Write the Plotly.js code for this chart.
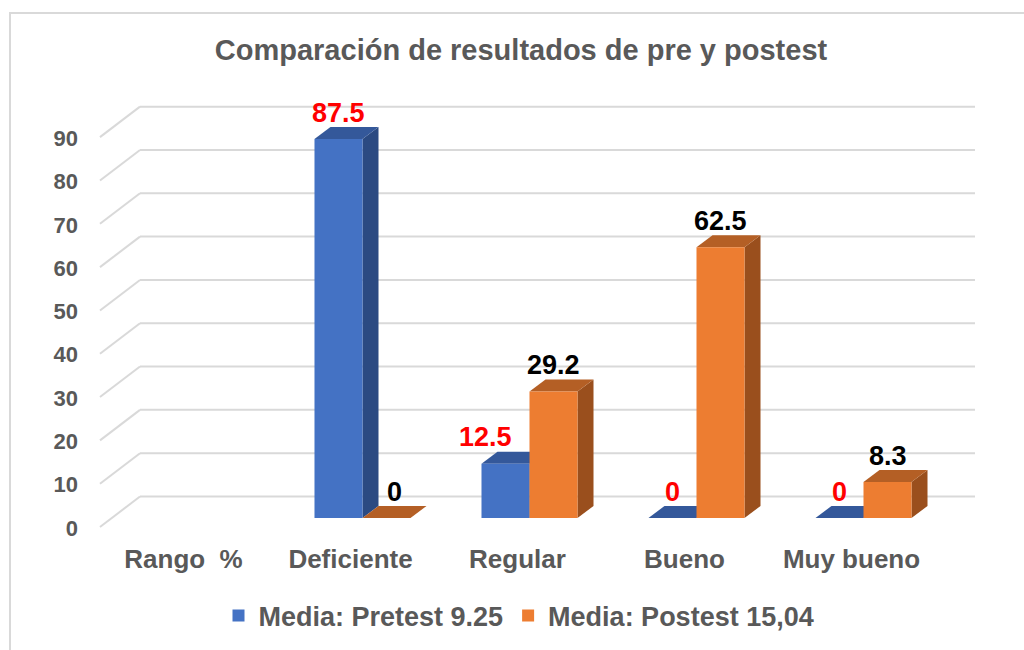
<!DOCTYPE html>
<html>
<head>
<meta charset="utf-8">
<script src="https://cdn.plot.ly/plotly-3.0.1.min.js"></script>
<style>html,body{margin:0;padding:0;background:#fff;}#chart{width:1024px;height:650px;}</style>
</head>
<body>
<div id="chart"></div>
<script>
// ---- data ----
const categories = ['Rango \u00a0%', 'Deficiente', 'Regular', 'Bueno', 'Muy bueno'];
const pretestName = 'Media: Pretest 9.25';
const postestName = 'Media: Postest 15,04';
const pretest = [null, 87.5, 12.5, 0, 0];
const postest = [null, 0, 29.2, 62.5, 8.3];
const yTicks = [0, 10, 20, 30, 40, 50, 60, 70, 80, 90];
const chartTitle = 'Comparación de resultados de pre y postest';

// ---- style / geometry ----
const W = 1024, H = 650;
const M = {l: 95, r: 44, t: 60, b: 115};
const pxPerX = 167;          // pixels per category
const pxPerY = 379 / 87.5;   // pixels per unit on front plane
const zeroPx = 518;          // pixel row of value 0 (front plane)
const barPlaneLeftPx = 112;  // pixel of x = -0.5
const plotW = W - M.l - M.r, plotH = H - M.t - M.b;
const xr0 = -0.5 - (barPlaneLeftPx - M.l) / pxPerX;
const xRange = [xr0, xr0 + plotW / pxPerX];
const yr0 = -((H - M.b) - zeroPx) / pxPerY;
const yRange = [yr0, yr0 + plotH / pxPerY];
const dX = px => px / pxPerX, dY = px => px / pxPerY;

const groupW = 0.575, barW = groupW / 2;
const colors = {
  pre: {front: '#4472C4', top: '#34589A', side: '#2B4A82'},
  post: {front: '#ED7D31', top: '#B45F25', side: '#9A4F1D'}
};
const depthX = 16, depthY = 12;   // 3D depth in px
const textGray = '#595959';
const font = 'Liberation Sans, Arial, sans-serif';
const xs = categories.map((_, i) => i);

const traces = [
  {type: 'bar', name: pretestName, x: xs, y: pretest, marker: {color: colors.pre.front, line: {width: 0}}, hoverinfo: 'y'},
  {type: 'bar', name: postestName, x: xs, y: postest, marker: {color: colors.post.front, line: {width: 0}}, hoverinfo: 'y'}
];

const shapes = [];
// back wall gridlines + floor diagonals
yTicks.forEach(v => {
  const yb = v + dY(21.5);
  shapes.push({type: 'line', layer: 'below', xref: 'x', yref: 'y',
    x0: -0.5 + dX(28), x1: categories.length - 0.5 + dX(28), y0: yb, y1: yb,
    line: {color: '#D9D9D9', width: 2}});
  shapes.push({type: 'line', layer: 'below', xref: 'x', yref: 'y',
    x0: -0.5 - dX(12), y0: v - dY(9), x1: -0.5 + dX(28), y1: yb,
    line: {color: '#D9D9D9', width: 2}});
});
// 3D faces for the bars
function faces(vals, offset, c) {
  vals.forEach((v, i) => {
    if (v === null) return;
    const xl = i + offset - barW / 2, xrr = i + offset + barW / 2;
    const ddx = dX(depthX), ddy = dY(depthY);
    if (v > 0) {
      shapes.push({type: 'path', layer: 'below', xref: 'x', yref: 'y',
        path: `M${xrr},0 L${xrr},${v} L${xrr + ddx},${v + ddy} L${xrr + ddx},${ddy} Z`,
        fillcolor: c.side, line: {width: 0}});
    }
    shapes.push({type: 'path', layer: 'below', xref: 'x', yref: 'y',
      path: `M${xl},${v} L${xrr},${v} L${xrr + ddx},${v + ddy} L${xl + ddx},${v + ddy} Z`,
      fillcolor: c.top, line: {width: 0}});
  });
}
faces(pretest, -barW / 2, colors.pre);
faces(postest, barW / 2, colors.post);

// chart border
shapes.push({type: 'rect', xref: 'paper', yref: 'paper', layer: 'above',
  x0: (10 - M.l) / plotW, x1: 1.2, y0: -0.5, y1: 1 + (M.t - 13) / plotH,
  line: {color: '#D9D9D9', width: 2}, fillcolor: 'rgba(0,0,0,0)'});

// data labels
const preLabelShift = [0, 0, -20, 0, 0];
const postLabelShift = [0, 8, 0, 0, 0];
const annotations = [];
function labels(vals, offset, color, shifts) {
  vals.forEach((v, i) => {
    if (v === null) return;
    annotations.push({x: i + offset, y: v, xref: 'x', yref: 'y', text: String(v),
      showarrow: false, yanchor: 'middle', xanchor: 'center', yshift: 26.5, xshift: shifts[i],
      font: {family: font, size: 27, color: color, weight: 'bold'}});
  });
}
labels(pretest, -barW / 2, '#FF0000', preLabelShift);
labels(postest, barW / 2, '#000000', postLabelShift);

const layout = {
  width: W, height: H,
  margin: M,
  paper_bgcolor: '#ffffff', plot_bgcolor: 'rgba(0,0,0,0)',
  title: {text: chartTitle, xref: 'container', yref: 'container', x: 521 / W, y: 1 - 50 / H,
    xanchor: 'center', yanchor: 'middle', font: {family: font, size: 29, color: textGray, weight: 'bold'}},
  barmode: 'group', bargap: 1 - groupW, bargroupgap: 0,
  xaxis: {range: xRange, tickvals: xs, ticktext: categories, showgrid: false, zeroline: false,
    showline: false, ticks: '', ticklabelshift: -12, ticklabelstandoff: 6,
    tickfont: {family: font, size: 26, color: textGray, weight: 'bold'}, fixedrange: true},
  yaxis: {range: yRange, tickvals: yTicks, showgrid: false, zeroline: false, showline: false,
    ticks: '', ticklabelshift: 10, ticklabelstandoff: 16,
    tickfont: {family: font, size: 22, color: textGray, weight: 'bold'}, fixedrange: true},
  shapes: shapes,
  annotations: annotations,
  showlegend: true,
  legend: {orientation: 'h', x: 519 / W, xref: 'container', xanchor: 'center',
    y: 1 - 616 / H, yref: 'container', yanchor: 'middle',
    font: {family: font, size: 27, color: textGray, weight: 'bold'}, itemwidth: 30, traceorder: 'normal'}
};

Plotly.newPlot('chart', traces, layout, {displayModeBar: false, staticPlot: true});
</script>
</body>
</html>
